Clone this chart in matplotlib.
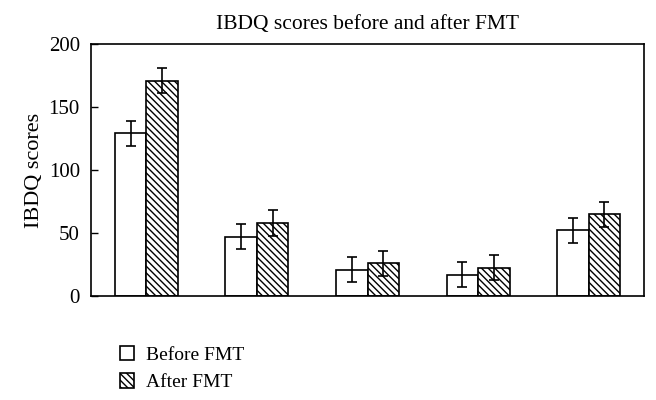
import matplotlib

matplotlib.use("Agg")
import matplotlib.pyplot as plt  # noqa: E402
import numpy as np  # noqa: E402

# IBDQ scores per group, before / after FMT
before = [129, 47, 21, 17, 52]
after = [171, 58, 26, 22.5, 65]
before_err = [10, 10, 10, 10, 10]
after_err = [10, 10, 10, 10, 10]
yticks = [0, 50, 100, 150, 200]

plt.rcParams.update({
    "font.family": ["Liberation Serif", "DejaVu Serif"],
    "font.size": 12,
    "hatch.linewidth": 1.0,
})

fig = plt.figure(figsize=(6.56, 4.0), dpi=100)
ax = fig.add_axes([91 / 656, 1 - 296 / 400, (644 - 91) / 656, (296 - 44) / 400])

x = np.arange(len(before)) + 0.5
w = 0.285
err_kw = dict(ecolor="black", elinewidth=1.2, capsize=3.5, capthick=1.2)
b1 = ax.bar(x - w / 2, before, w, yerr=before_err, color="white",
            edgecolor="black", linewidth=1.2, error_kw=err_kw, label="Before FMT")
b2 = ax.bar(x + w / 2, after, w, yerr=after_err, color="white",
            edgecolor="black", linewidth=1.2, hatch="\\\\\\\\\\",
            error_kw=err_kw, label="After FMT")

ax.set_xlim(0, 5)
ax.set_ylim(0, 200)
ax.set_yticks(yticks)
ax.set_xticks([])
ax.tick_params(axis="y", direction="in", length=5, width=1, labelsize=15, pad=8)
for s in ax.spines.values():
    s.set_linewidth(1.2)
ax.set_ylabel("IBDQ scores", fontsize=16, labelpad=3)
ax.set_title("IBDQ scores before and after FMT", fontsize=15.5, pad=11)

fig.legend(handles=[b1, b2], loc="upper left", bbox_to_anchor=(112 / 656, 1 - 338 / 400),
           frameon=False, fontsize=14, handlelength=0.75, handleheight=0.75,
           handletextpad=0.6, labelspacing=0.5, borderaxespad=0)

fig.savefig("out.png", dpi=100)
